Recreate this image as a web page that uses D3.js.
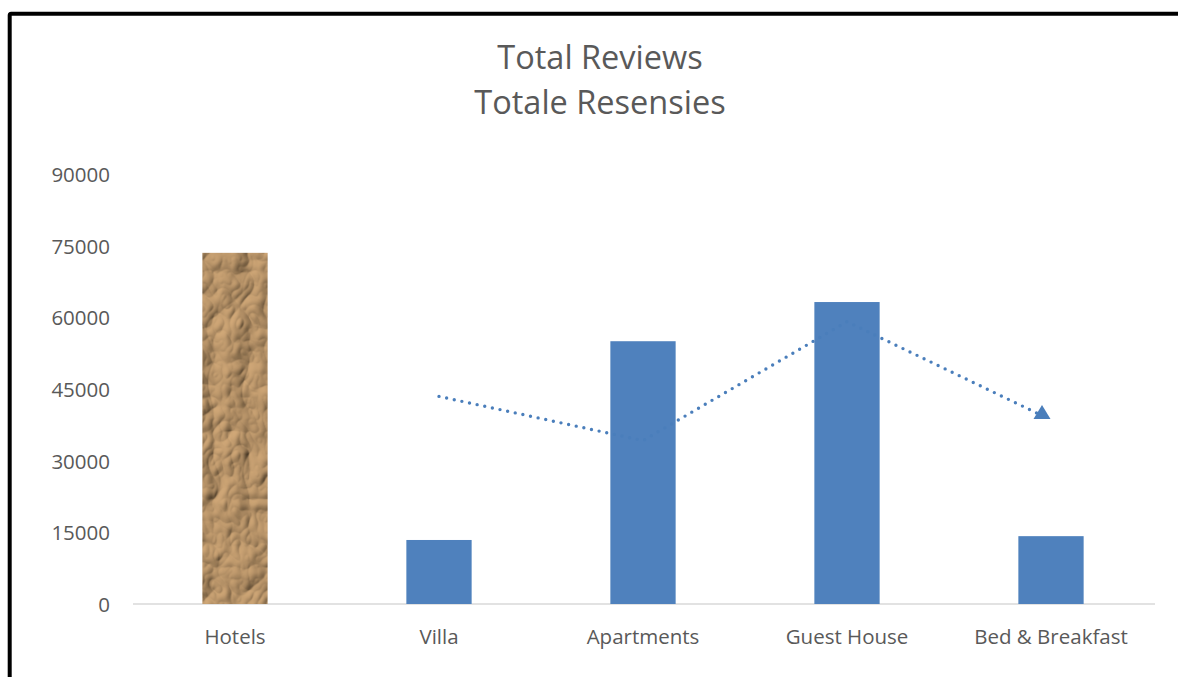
<!DOCTYPE html>
<html><head><meta charset="utf-8">
<script src="https://cdn.jsdelivr.net/npm/d3@7"></script>
<style>html,body{margin:0;padding:0;background:#fff;}svg{display:block;}</style>
</head><body>
<svg id="c" width="1178" height="677"></svg>
<script>
const categories = ["Hotels", "Villa", "Apartments", "Guest House", "Bed & Breakfast"];
const reviews = [73500, 13400, 55000, 63200, 14200];
const yTicks = [0, 15000, 30000, 45000, 60000, 75000, 90000];
const titleLines = ["Total Reviews", "Totale Resensies"];

const svg = d3.select("#c");
const W = 1178, H = 677;
const font = "'Open Sans', sans-serif";
const textColor = "#595959";
const barColor = "#4f81bd";
const trendColor = "#4a7ebb";

// crumpled paper texture filter for Hotels bar
const defs = svg.append("defs");
const f = defs.append("filter").attr("id", "paper").attr("x", 0).attr("y", 0).attr("width", 1).attr("height", 1);
f.append("feTurbulence").attr("type", "turbulence").attr("baseFrequency", "0.028 0.022").attr("numOctaves", 3).attr("seed", 11).attr("result", "noise");
const light = f.append("feDiffuseLighting").attr("in", "noise").attr("lighting-color", "#d2a978").attr("surfaceScale", 5).attr("diffuseConstant", 1.0).attr("result", "lit");
light.append("feDistantLight").attr("azimuth", 225).attr("elevation", 45);
f.append("feComposite").attr("in", "lit").attr("in2", "SourceGraphic").attr("operator", "in");

svg.append("rect").attr("width", W).attr("height", H).attr("fill", "#fff");
svg.append("rect").attr("x", 9.7).attr("y", 13.7).attr("width", 1300).attr("height", 800)
  .attr("fill", "none").attr("stroke", "#000").attr("stroke-width", 4).attr("rx", 1.5);

const x = d3.scaleBand().domain(categories).range([133, 1153]).paddingInner(0.68).paddingOuter(0.34);
const y = d3.scaleLinear().domain([0, 90000]).range([604, 174]);

// title
svg.append("g").selectAll("text").data(titleLines).join("text")
  .attr("x", 600).attr("y", (d, i) => 69 + i * 45)
  .attr("text-anchor", "middle").attr("font-family", font).attr("font-size", 32.5)
  .attr("fill", textColor).text(d => d);

// y axis labels
const yAxis = d3.axisLeft(y).tickValues(yTicks).tickSize(0).tickPadding(0).tickFormat(d3.format("d"));
const gy = svg.append("g").attr("transform", "translate(110,0)").call(yAxis);
gy.select(".domain").remove();
gy.selectAll("text").attr("font-family", font).attr("font-size", 20.5).attr("fill", textColor).attr("dy", "0.36em");

// x axis
const xAxis = d3.axisBottom(x).tickSize(0).tickPadding(0);
const gx = svg.append("g").attr("transform", "translate(0,604)").call(xAxis);
gx.select(".domain").attr("stroke", "#d9d9d9").attr("stroke-width", 1.5).attr("d", "M133,0H1155");
gx.selectAll("text").attr("font-family", font).attr("font-size", 20.5).attr("fill", textColor).attr("dy", "0").attr("y", 40);

// bars
svg.append("g").selectAll("rect").data(categories).join("rect")
  .attr("x", d => x(d)).attr("width", x.bandwidth())
  .attr("y", (d, i) => y(reviews[i])).attr("height", (d, i) => y(0) - y(reviews[i]))
  .attr("fill", (d, i) => i === 0 ? "#a47b4c" : barColor)
  .attr("filter", (d, i) => i === 0 ? "url(#paper)" : null);

// 2-period moving average trendline
const ma = [];
for (let i = 1; i < reviews.length; i++) ma.push({ c: categories[i], v: (reviews[i - 1] + reviews[i]) / 2, last: i === reviews.length - 1 });
const cx = d => x(d) + x.bandwidth() / 2;
const line = d3.line().x(d => d.last ? cx(d.c) - 12 : cx(d.c)).y(d => d.last ? y(d.v) - 5 : y(d.v));
svg.append("path").datum(ma).attr("d", line).attr("fill", "none")
  .attr("stroke", trendColor).attr("stroke-width", 3.4).attr("stroke-linecap", "round")
  .attr("stroke-dasharray", "0,7.8");
const lastPt = ma[ma.length - 1];
const tx = cx(lastPt.c) - 9, ty = y(lastPt.v);
svg.append("path").attr("d", `M${tx - 8.5},${ty}L${tx + 8.5},${ty}L${tx},${ty - 14}Z`).attr("fill", trendColor);
</script>
</body></html>
